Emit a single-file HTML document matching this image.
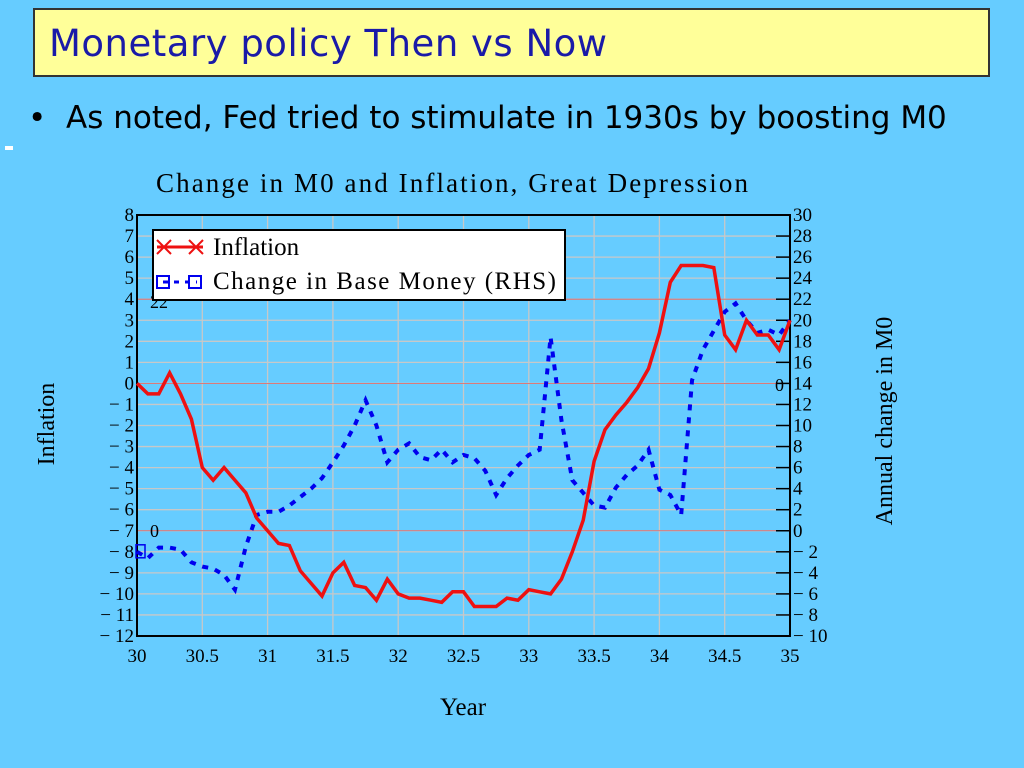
<!DOCTYPE html>
<html><head><meta charset="utf-8"><style>
body{margin:0;width:1024px;height:768px;background:#66ccff;overflow:hidden;font-family:"Liberation Sans",sans-serif;position:relative}
#title{position:absolute;left:33px;top:8px;width:957px;height:69px;background:#ffff99;border:2px solid #333;box-sizing:border-box}
#title span{position:absolute;left:14px;top:12px;font-family:"DejaVu Sans",sans-serif;font-size:37px;letter-spacing:0.5px;color:#1a1aa8}
#bullet{position:absolute;left:28px;top:100px;font-family:"DejaVu Sans",sans-serif;font-size:31px;color:#000;white-space:nowrap}
svg{position:absolute;left:0;top:0}
text{font-family:"Liberation Serif",serif;fill:#000}
</style></head><body>
<div id="title"><span>Monetary policy Then vs Now</span></div>
<div id="bullet">•&nbsp; As noted, Fed tried to stimulate in 1930s by boosting M0</div>
<div style="position:absolute;left:5px;top:146px;width:8px;height:4px;background:#fff"></div>
<svg id="chart" width="1024" height="768"></svg>
<script>
const inflation=[0,-0.5,-0.5,0.5,-0.5,-1.7,-4,-4.6,-4,-4.6,-5.2,-6.4,-7,-7.6,-7.7,-8.9,-9.5,-10.1,-9,-8.5,-9.6,-9.7,-10.3,-9.3,-10,-10.2,-10.2,-10.3,-10.4,-9.9,-9.9,-10.6,-10.6,-10.6,-10.2,-10.3,-9.8,-9.9,-10,-9.3,-8,-6.5,-3.7,-2.2,-1.5,-0.9,-0.2,0.7,2.4,4.8,5.6,5.6,5.6,5.5,2.3,1.6,3,2.3,2.3,1.6,3];
const baseMoney=[-2,-2.6,-1.6,-1.6,-1.8,-3,-3.4,-3.6,-4.2,-5.6,-1.5,1.5,1.8,1.8,2.4,3.2,4,5,6.5,8.1,10,12.4,10,6.5,7.7,8.3,7,6.7,7.7,6.5,7.2,6.9,5.7,3.4,5,6.2,7.2,7.7,18.4,10.5,4.8,3.6,2.4,2.2,4.1,5.3,6.2,7.7,3.9,3.4,1.5,14.3,17.2,19,20.8,21.6,20,18.8,19.1,18.6,20];
const xTicks=["30","30.5","31","31.5","32","32.5","33","33.5","34","34.5","35"];
const leftTicks=[8,7,6,5,4,3,2,1,0,-1,-2,-3,-4,-5,-6,-7,-8,-9,-10,-11,-12];
const rightTicks=[30,28,26,24,22,20,18,16,14,12,10,8,6,4,2,0,-2,-4,-6,-8,-10];
const L=137,R=790,T=215,B=636;
const X=v=>L+(v-30)/5*(R-L);
const YL=v=>T+(8-v)/20*(B-T);
const YR=v=>T+(30-v)/40*(B-T);
const svg=document.getElementById('chart');const NS='http://www.w3.org/2000/svg';
function mk(t,a,p){const e=document.createElementNS(NS,t);for(const k in a)e.setAttribute(k,a[k]);(p||svg).appendChild(e);return e;}
let e;
leftTicks.forEach(v=>{e=mk('line',{x1:L,x2:R,y1:YL(v),y2:YL(v),stroke:'#c8c8c8','stroke-width':1.3});

});
for(let i=1;i<10;i++){const v=30+i*0.5;e=mk('line',{x1:X(v),x2:X(v),y1:T,y2:B,stroke:'#c8c8c8','stroke-width':1.3});

}
e=mk('line',{x1:L,x2:R,y1:YL(0),y2:YL(0),stroke:'#e06060','stroke-width':0.8});


e=mk('line',{x1:L,x2:R,y1:YL(-7),y2:YL(-7),stroke:'#e06060','stroke-width':0.8});


e=mk('line',{x1:L,x2:R,y1:YL(4),y2:YL(4),stroke:'#e06060','stroke-width':0.8});


e=mk('rect',{x:L,y:T,width:R-L,height:B-T,fill:'none',stroke:'#000','stroke-width':2});


leftTicks.forEach(v=>{e=mk('text',{x:L-3,y:YL(v)+6,'text-anchor':'end','font-size':19});e.textContent=(v<0?'− '+(-v):v);

});
rightTicks.forEach(v=>{mk('line',{x1:R-14,x2:R,y1:YR(v),y2:YR(v),stroke:'#000','stroke-width':1.5});
e=mk('text',{x:R+3,y:YR(v)+6,'font-size':19});e.textContent=(v<0?'− '+(-v):v);

});
xTicks.forEach(s=>{e=mk('text',{x:X(+s),y:B+26,'text-anchor':'middle','font-size':19});e.textContent=s;

});
const n=inflation.length;
let pb=baseMoney.map((v,i)=>X(30+i*5/(n-1))+','+YR(v)).join(' ');
e=mk('polyline',{points:pb,fill:'none',stroke:'#0000ee','stroke-width':4,'stroke-dasharray':'6,7'});


let pi=inflation.map((v,i)=>X(30+i*5/(n-1))+','+YL(v)).join(' ');
e=mk('polyline',{points:pi,fill:'none',stroke:'#ee1111','stroke-width':3.5});


e=mk('rect',{x:L-1,y:YR(baseMoney[0])-7,width:9,height:13,fill:'none',stroke:'#0000ee','stroke-width':1.5});


[['22',150,308,'label-22'],['0',150,537,'label-0'],['0',775,391,'label-0-right']].forEach(a=>{e=mk('text',{x:a[1],y:a[2],'font-size':18});e.textContent=a[0];

});
e=mk('text',{x:156,y:192,'font-size':27,textLength:592,lengthAdjust:'spacing'});e.textContent='Change in M0 and Inflation, Great Depression';


e=mk('text',{x:463,y:715,'text-anchor':'middle','font-size':25});e.textContent='Year';


e=mk('text',{x:54,y:424,'text-anchor':'middle','font-size':24,transform:'rotate(-90 54 424)'});e.textContent='Inflation';


e=mk('text',{x:892,y:421,'text-anchor':'middle','font-size':24,transform:'rotate(-90 892 421)'});e.textContent='Annual change in M0';


const g=mk('g',{});


mk('rect',{x:153,y:230,width:412,height:70,fill:'#fff',stroke:'#000','stroke-width':2},g);
mk('line',{x1:157,x2:203,y1:247,y2:247,stroke:'#ee1111','stroke-width':3},g);
mk('path',{d:'M157,240 L171,254 M157,254 L171,240 M189,240 L203,254 M189,254 L203,240',stroke:'#ee1111','stroke-width':2},g);
mk('line',{x1:163,x2:197,y1:282,y2:282,stroke:'#0000ee','stroke-width':3,'stroke-dasharray':'5,6'},g);
mk('rect',{x:157,y:276,width:12,height:12,fill:'none',stroke:'#0000ee','stroke-width':2},g);
mk('rect',{x:189,y:276,width:12,height:12,fill:'none',stroke:'#0000ee','stroke-width':2},g);
e=mk('text',{x:213,y:255,'font-size':25},g);e.textContent='Inflation';


e=mk('text',{x:213,y:289,'font-size':25,textLength:343,lengthAdjust:'spacing'},g);e.textContent='Change in Base Money (RHS)';


</script>
</body></html>
